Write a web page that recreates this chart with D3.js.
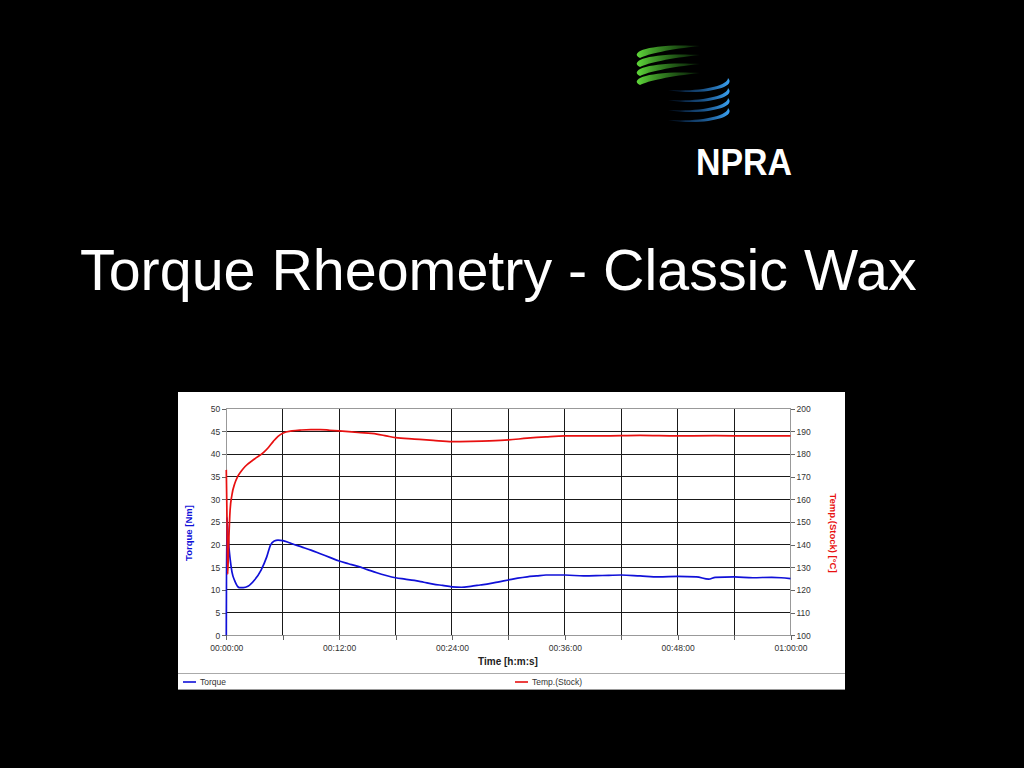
<!DOCTYPE html>
<html><head><meta charset="utf-8">
<script src="https://cdn.jsdelivr.net/npm/d3@7"></script>
<style>html,body{margin:0;padding:0;background:#000;}svg{display:block;}</style>
</head><body>
<script>
// ---- data (time in minutes) ----
const torqueTime = [0,0.05,0.1,0.2,0.3,0.4,0.6,0.9,1.4,1.8,2.3,3,3.7,4.3,4.7,5.1,5.5,6,6.5,7,8,9,10,11,12,13,14,15,16,17,18,19,20,21,22,23,24,25,26,27,28,29,30,31,32,33,34,36,38,40,42,44,46,48,50,51.3,52,54,56,58,59,60];
const torqueVal  = [0,26,25,22,19,17,14,12,10.5,10.5,10.8,12.2,14.4,17.3,19.9,20.8,21,20.9,20.6,20.2,19.5,18.8,18,17.2,16.4,15.8,15.2,14.5,13.8,13.2,12.7,12.4,12.1,11.7,11.3,11,10.7,10.6,10.8,11.1,11.4,11.8,12.2,12.6,12.9,13.1,13.3,13.3,13.1,13.2,13.3,13.1,12.9,13.0,12.9,12.4,12.8,12.9,12.7,12.8,12.7,12.5];
const tempTime = [0,0.08,0.15,0.25,0.4,0.6,0.9,1.2,1.6,2,3,4,4.5,5,5.5,6,7,8,9,10,11,12,14,16,17,18,20,22,24,26,28,30,32,34,36,40,44,48,52,56,60];
const tempVal  = [173,150,127,140,155,162,167,170,172.5,174.5,177.8,180.8,183,185.6,187.8,189.2,190.2,190.6,190.8,190.8,190.5,190.2,189.5,188.8,188,187.2,186.6,186,185.5,185.6,185.8,186.2,187,187.6,188,188,188.2,188,188.1,188,188];
const xTickMinutes = [0,12,24,36,48,60];
const xTickLabels = ["00:00:00","00:12:00","00:24:00","00:36:00","00:48:00","01:00:00"];
const xGridMinutes = [0,6,12,18,24,30,36,42,48,54,60];
const leftTicks = [0,5,10,15,20,25,30,35,40,45,50];
const rightTicks = [100,110,120,130,140,150,160,170,180,190,200];
const seriesNames = ["Torque","Temp.(Stock)"];
const seriesColors = ["#1010d8","#e81010"];

const W=1024,H=768;
const svg=d3.select("body").append("svg").attr("width",W).attr("height",H);
svg.append("rect").attr("width",W).attr("height",H).attr("fill","#000");

// ---- logo ----
const logo=svg.append("g");
const defs=svg.append("defs");
const lg1=defs.append("linearGradient").attr("id","gg").attr("x1","0").attr("x2","1");
lg1.append("stop").attr("offset","0").attr("stop-color","#5fd63a");
lg1.append("stop").attr("offset","1").attr("stop-color","#2a8a20").attr("stop-opacity",0.2);
const lg2=defs.append("linearGradient").attr("id","bg").attr("x1","1").attr("x2","0");
lg2.append("stop").attr("offset","0").attr("stop-color","#3aa0f0");
lg2.append("stop").attr("offset","1").attr("stop-color","#1050a0").attr("stop-opacity",0.2);
[0,1,2,3].forEach(i=>{
  const y0=46+i*9;
  logo.append("path").attr("d",`M700 ${y0} C650 ${y0-3}, 628 ${y0+6}, 640 ${y0+12} C648 ${y0+8}, 670 ${y0+3}, 700 ${y0}`)
    .attr("fill","url(#gg)");
});
[0,1,2,3].forEach(i=>{
  const y0=82+i*10;
  logo.append("path").attr("d",`M668 ${y0+8} C700 ${y0+14}, 738 ${y0+6}, 728 ${y0-4} C728 ${y0+4}, 700 ${y0+10}, 668 ${y0+8}`)
    .attr("fill","url(#bg)");
});
logo.append("text").attr("x",696).attr("y",175).attr("fill","#fff")
  .attr("font-family","Liberation Sans, Arial, sans-serif").attr("font-weight","bold")
  .attr("font-size",36).attr("textLength",96).attr("lengthAdjust","spacingAndGlyphs").text("NPRA");

// ---- title ----
svg.append("text").attr("x",80).attr("y",290).attr("fill","#fff")
  .attr("font-family","Liberation Sans, Arial, sans-serif").attr("font-size",57.4)
  .text("Torque Rheometry - Classic Wax");

// ---- chart panel ----
const panel={x:178,y:392,w:667,h:298};
svg.append("rect").attr("x",panel.x).attr("y",panel.y).attr("width",panel.w).attr("height",panel.h).attr("fill","#fff");

const x=d3.scaleLinear().domain([0,60]).range([226.3,790.5]);
const yL=d3.scaleLinear().domain([0,50]).range([635.3,408.7]);
const yR=d3.scaleLinear().domain([100,200]).range([635.3,408.7]);
const font="Liberation Sans, Arial, sans-serif";

// grid
const grid=svg.append("g");
grid.selectAll("line.h").data(leftTicks).join("line")
  .attr("x1",x(0)).attr("x2",x(60)).attr("y1",d=>yL(d)).attr("y2",d=>yL(d))
  .attr("stroke",d=>d===0||d===50?"#999":"#1a1a1a").attr("stroke-width",1).attr("shape-rendering","crispEdges");
grid.selectAll("line.v").data(xGridMinutes).join("line")
  .attr("y1",yL(0)).attr("y2",yL(50)).attr("x1",d=>x(d)).attr("x2",d=>x(d))
  .attr("stroke",d=>d===0||d===60?"#999":"#1a1a1a").attr("stroke-width",1).attr("shape-rendering","crispEdges");

// axes
const axL=d3.axisLeft(yL).tickValues(leftTicks).tickSize(4).tickPadding(2);
const gL=svg.append("g").attr("transform",`translate(${x(0)},0)`).call(axL);
const axR=d3.axisRight(yR).tickValues(rightTicks).tickSize(4).tickPadding(2);
const gR=svg.append("g").attr("transform",`translate(${x(60)},0)`).call(axR);
const axB=d3.axisBottom(x).tickValues(xGridMinutes).tickSize(5).tickPadding(3)
  .tickFormat(d=>{const i=xTickMinutes.indexOf(d);return i>=0?xTickLabels[i]:"";});
const gB=svg.append("g").attr("transform",`translate(0,${yL(0)})`).call(axB);
[gL,gR,gB].forEach(g=>{
  g.select(".domain").remove();
  g.selectAll(".tick line").attr("stroke","#666").attr("shape-rendering","crispEdges");
  g.selectAll("text").attr("font-family",font).attr("font-size",8.5).attr("fill","#333");
});
gB.selectAll("text").attr("dy","0.9em");

// axis titles
svg.append("text").attr("x",508).attr("y",665).attr("text-anchor","middle")
  .attr("font-family",font).attr("font-weight","bold").attr("font-size",10).attr("fill","#222").text("Time [h:m:s]");
svg.append("text").attr("transform","translate(192,533) rotate(-90)").attr("text-anchor","middle")
  .attr("font-family",font).attr("font-weight","bold").attr("font-size",9.5).attr("fill",seriesColors[0]).text("Torque [Nm]");
svg.append("text").attr("transform","translate(830,533) rotate(90)").attr("text-anchor","middle")
  .attr("font-family",font).attr("font-weight","bold").attr("font-size",9.5).attr("fill",seriesColors[1]).text("Temp.(Stock) [°C]");

// lines
const torque=torqueTime.map((t,i)=>[t,torqueVal[i]]);
const temp=tempTime.map((t,i)=>[t,tempVal[i]]);
svg.append("path").datum(torque).attr("fill","none").attr("stroke",seriesColors[0]).attr("stroke-width",1.7)
  .attr("d",d3.line().curve(d3.curveMonotoneX).x(d=>x(d[0])).y(d=>yL(d[1])));
svg.append("path").datum(temp).attr("fill","none").attr("stroke",seriesColors[1]).attr("stroke-width",1.7)
  .attr("d",d3.line().curve(d3.curveMonotoneX).x(d=>x(d[0])).y(d=>yR(d[1])));

// legend
svg.append("line").attr("x1",panel.x).attr("x2",panel.x+panel.w).attr("y1",673.5).attr("y2",673.5).attr("stroke","#aaa");
svg.append("line").attr("x1",panel.x).attr("x2",panel.x+panel.w).attr("y1",689.5).attr("y2",689.5).attr("stroke","#999");
const legX=[183,515];
seriesNames.forEach((n,i)=>{
  svg.append("line").attr("x1",legX[i]).attr("x2",legX[i]+13).attr("y1",682).attr("y2",682)
    .attr("stroke",seriesColors[i]).attr("stroke-width",1.6);
  svg.append("text").attr("x",legX[i]+17).attr("y",685).attr("font-family",font).attr("font-size",8.5)
    .attr("fill","#333").text(n);
});
</script>
</body></html>
